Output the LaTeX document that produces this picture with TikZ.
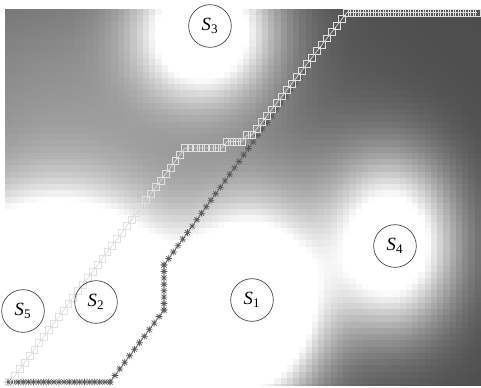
\documentclass[tikz,border=0pt]{standalone}
\usepackage{fontspec}
\setmainfont{Liberation Serif}
\usetikzlibrary{calc}
\tikzset{
  snode/.style={circle, draw=black!75, line width=0.5pt, minimum size=32pt, inner sep=0pt, font=\fontsize{14}{16}\selectfont},
  astline/.style={draw=black!55, line width=0.6pt},
  sqline/.style={draw=white!85!black, line width=0.5pt},
  ast/.pic={\draw[black!65, line width=0.5pt] (-3.4,0)--(3.4,0) (0,-3.4)--(0,3.4) (-2.5,-2.5)--(2.5,2.5) (-2.5,2.5)--(2.5,-2.5);},
  sqm/.pic={\draw[white!88!black, line width=0.45pt] (-3.4,-3.4) rectangle (3.4,3.4);}
}
\newcommand\segmarks[4]{\foreach \k in {0,...,#3}{\pic at ($(#1)!{\k/#3}!(#2)$) {#4};}}
\begin{document}
\begin{tikzpicture}[x=0.75pt,y=-0.75pt]
\useasboundingbox (0,0) rectangle (481,387);
\fill[white] (0,0) rectangle (481,387);
% heat map
\begin{scope}
\clip (5,9) rectangle (481,385);
\foreach \i in {0,...,75}{
  \foreach \j in {0,...,60}{
    \pgfmathsetmacro\X{(5+(\i+0.5)*6.263)/100}
    \pgfmathsetmacro\Y{(9+(\j+0.5)*6.25)/100}
    \pgfmathsetmacro\v{100*min(1, 0.30
      +0.30*exp(max(-9,-((\X-0.6)*(\X-0.6)+(\Y-1.5)*(\Y-1.5))/4))
      +0.10*exp(max(-9,-((\X-2.9)*(\X-2.9)+(\Y-1.9)*(\Y-1.9))/1.0))
      +1.30*exp(max(-9,-((\X-2.52)*(\X-2.52)/0.45+(\Y-3.10)*(\Y-3.10)/0.8)))
      +0.40*exp(max(-9,-((\X-1.6)*(\X-1.6)+(\Y-3.8)*(\Y-3.8))/0.4))
      +0.90*exp(max(-9,-((\X-0.96)*(\X-0.96)+(\Y-3.02)*(\Y-3.02))/0.8))
      +0.90*exp(max(-9,-((\X-2.05)*(\X-2.05)+(\Y-0.30)*(\Y-0.30))/0.45))
      +0.90*exp(max(-9,-((\X-3.93)*(\X-3.93)/0.4+(\Y-2.45)*(\Y-2.45)/0.7)))
      +1.20*exp(max(-9,-((\X-0.23)*(\X-0.23)+(\Y-3.11)*(\Y-3.11))/0.8)))}
    \fill[white!\v!black] ({5+\i*6.263},{9+\j*6.25}) rectangle ++(6.7,6.7);
  }
}
\end{scope}
% path vertices
\coordinate (a0) at (8,382);
\coordinate (a1) at (110,382);
\coordinate (a2) at (164,310);
\coordinate (a3) at (164,265);
\coordinate (a4) at (347,12.5);
\coordinate (a5) at (477,12.5);
\coordinate (b0) at (10,382);
\coordinate (b1) at (185,148);
\coordinate (b2) at (222,148);
\coordinate (b3) at (227,141.5);
\coordinate (b4) at (242,141.5);
\coordinate (b5) at (247,135);
\coordinate (b6) at (252,135);
\coordinate (b7) at (347,12.5);
\coordinate (b8) at (477,12.5);
% asterisk path
\draw[astline] (a0)--(a1)--(a2)--(a3)--(a4)--(a5);
\segmarks{a0}{a1}{20}{ast}
\segmarks{a1}{a2}{11}{ast}
\segmarks{a2}{a3}{7}{ast}
\segmarks{a3}{a4}{39}{ast}
\segmarks{a4}{a5}{26}{ast}
% square path
\draw[sqline] (b0)--(b1)--(b2)--(b3)--(b4)--(b5)--(b6)--(b7)--(b8);
\segmarks{b0}{b1}{36}{sqm}
\segmarks{b1}{b2}{7}{sqm}
\segmarks{b2}{b3}{1}{sqm}
\segmarks{b3}{b4}{3}{sqm}
\segmarks{b4}{b5}{1}{sqm}
\segmarks{b5}{b6}{1}{sqm}
\segmarks{b6}{b7}{19}{sqm}
\segmarks{b7}{b8}{26}{sqm}
% stations
\node[snode] (s1) at (252,300) {\textit{S}\textsubscript{1}};
\node[snode] (s2) at (96,302) {\textit{S}\textsubscript{2}};
\node[snode] (s3) at (210,26) {\textit{S}\textsubscript{3}};
\node[snode] (s4) at (395,246) {\textit{S}\textsubscript{4}};
\node[snode] (s5) at (23,311) {\textit{S}\textsubscript{5}};
\end{tikzpicture}
\end{document}
